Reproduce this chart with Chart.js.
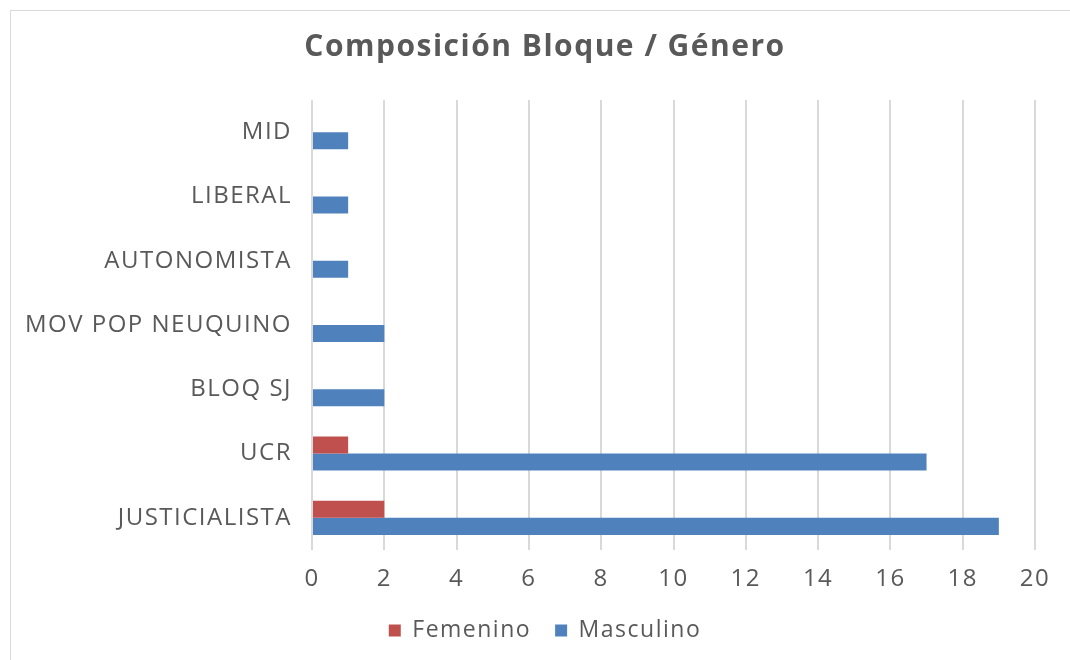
<!DOCTYPE html>
<html>
<head>
<meta charset="utf-8">
<script src="https://cdn.jsdelivr.net/npm/chart.js@4.4.1/dist/chart.umd.min.js"></script>
<style>
  html, body { margin: 0; padding: 0; background: #fff; overflow: hidden; }
  #frame {
    position: absolute; left: 10px; top: 10px;
    width: 1100px; height: 700px;
    border: 1px solid #d9d9d9;
  }
  #wrap { position: absolute; left: 0; top: 0; width: 1070px; height: 660px; }
</style>
</head>
<body>
<div id="frame"></div>
<div id="wrap"><canvas id="chart"></canvas></div>
<script>
'use strict';

/* ── Dados ── */
const BLOQUES   = ['MID', 'LIBERAL', 'AUTONOMISTA', 'MOV POP NEUQUINO', 'BLOQ SJ', 'UCR', 'JUSTICIALISTA'];
const FEMENINO  = [0, 0, 0, 0, 0, 1, 2];
const MASCULINO = [1, 1, 1, 2, 2, 17, 19];
const X_MAX  = 20;
const X_STEP = 2;

const TEXT = '#595959';
const GRID = '#d9d9d9';
const FONT = "'Open Sans', sans-serif";

/* O original usa uma fonte mais larga: abre um pouco o espaçamento */
const spacing = {
  id: 'spacing',
  beforeLayout: c => { c.ctx.letterSpacing = '1.5px'; },
  beforeDraw:   c => { c.ctx.letterSpacing = '1.5px'; },
};

new Chart(document.getElementById('chart'), {
  type: 'bar',
  data: {
    labels: BLOQUES,
    datasets: [
      { label: 'Femenino',  data: FEMENINO,  backgroundColor: '#C0504D' },
      { label: 'Masculino', data: MASCULINO, backgroundColor: '#4F81BD' },
    ],
  },
  plugins: [spacing],
  options: {
    responsive: true,
    maintainAspectRatio: false,
    animation: false,
    indexAxis: 'y',
    categoryPercentage: 0.53,
    barPercentage: 1,
    layout: { padding: { left: 55, right: 35, top: 0, bottom: 8 } },
    plugins: {
      title: {
        display: true,
        text: 'Composición Bloque / Género',
        color: TEXT,
        font: { family: FONT, size: 30, weight: 'bold' },
        padding: { top: 29, bottom: 35 },
      },
      legend: {
        position: 'bottom',
        labels: {
          color: TEXT,
          font: { family: FONT, size: 23 },
          boxWidth: 12,
          boxHeight: 12,
          padding: 24,
        },
      },
      tooltip: { enabled: false },
    },
    scales: {
      x: {
        min: 0,
        max: X_MAX,
        ticks: { stepSize: X_STEP, color: TEXT, font: { family: FONT, size: 24 }, padding: 15 },
        grid: { color: GRID, lineWidth: 2, drawTicks: false },
        border: { display: false },
        afterFit: s => { s.height = 45; },
      },
      y: {
        ticks: { color: TEXT, font: { family: FONT, size: 24 }, padding: 20 },
        grid: { display: false, drawTicks: false },
        border: { display: false },
        afterFit: s => {
          s.width = 257;
          /* rótulos longos passam da borda do eixo: sem recorte */
          s._computeLabelArea = () => undefined;
        },
      },
    },
  },
});
</script>
</body>
</html>
